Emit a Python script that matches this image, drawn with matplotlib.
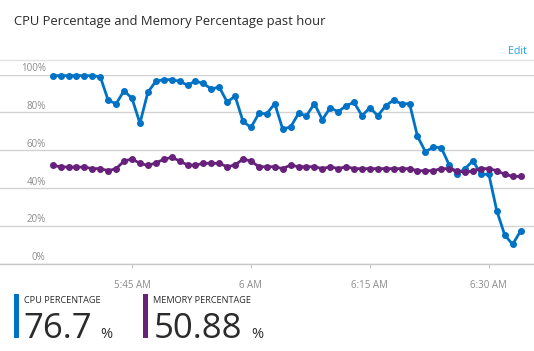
import matplotlib
matplotlib.use("Agg")
import matplotlib.pyplot as plt
import matplotlib.dates as mdates
import matplotlib.transforms as mtransforms
import pandas as pd

# ---------------- data ----------------
start_time = "2024-01-01 05:35"
n_points = 60
cpu_pct = [99.5, 99.5, 99.5, 99.5, 99.5, 99.5, 98.9, 86.4, 84.7, 91.5,
           87.5, 74.3, 90.7, 96.5, 97.4, 97.4, 96.5, 94.5, 96.6, 95.4,
           92.4, 93.5, 85.5, 88.7, 75.3, 72.1, 79.5, 79.4, 84.7, 71.3,
           72.3, 79.5, 78.3, 84.7, 76.2, 82.5, 80.4, 83.6, 85.4, 78.3,
           82.5, 78.3, 83.6, 86.6, 84.5, 84.7, 67.4, 59.3, 61.6, 61.4,
           52.2, 47.4, 50.3, 54.5, 47.3, 47.3, 28.0, 15.2, 10.2, 17.3]
mem_pct = [52.0, 51.3, 51.1, 51.1, 51.1, 50.3, 50.3, 49.2, 50.3, 54.3,
           55.4, 53.1, 52.0, 53.3, 55.2, 56.3, 54.4, 52.2, 52.2, 53.1,
           53.1, 53.1, 51.3, 52.2, 55.4, 54.3, 51.3, 51.3, 51.3, 50.3,
           52.2, 51.3, 51.3, 51.3, 50.3, 51.3, 50.3, 51.3, 50.3, 50.3,
           50.3, 50.3, 50.3, 50.3, 50.3, 50.3, 49.2, 49.2, 49.2, 50.3,
           50.3, 49.2, 48.3, 49.2, 50.3, 50.3, 49.2, 47.3, 46.2, 46.2]
y_ticks = [0, 20, 40, 60, 80, 100]
y_tick_labels = ["0%", "20%", "40%", "60%", "80%", "100%"]
x_tick_times = ["2024-01-01 05:45", "2024-01-01 06:00", "2024-01-01 06:15", "2024-01-01 06:30"]
x_tick_labels = ["5:45 AM", "6 AM", "6:15 AM", "6:30 AM"]
title = "CPU Percentage and Memory Percentage past hour"
cpu_label, cpu_value = "CPU PERCENTAGE", "76.7"
mem_label, mem_value = "MEMORY PERCENTAGE", "50.88"

# ---------------- style ----------------
W, H = 534, 351
DPI = 100
FONT = ["Open Sans", "DejaVu Sans"]
plt.rcParams["font.family"] = FONT
BLUE = "#0072c6"
PURPLE = "#68217a"
GRID = "#d2d2d2"
TICK_TXT = "#8c8c8c"
DARK = "#2b2b2b"

times = pd.date_range(start_time, periods=n_points, freq="min")
xt = [mdates.date2num(pd.Timestamp(t)) for t in x_tick_times]
xnum = mdates.date2num(times)


def fx(px):
    return px / W


def fy(py):
    return 1 - py / H


fig = plt.figure(figsize=(W / DPI, H / DPI), dpi=DPI)
fig.patch.set_facecolor("white")

# plot area: full width, 100% at y=74.7px, 0% at y=263.7px
ax = fig.add_axes([0, fy(263.7), 1, (263.7 - 74.7) / H])
ax.set_facecolor("none")
ax.plot(xnum, cpu_pct, color=BLUE, lw=2.0, marker="o", ms=4.0, clip_on=False, zorder=3)
ax.plot(xnum, mem_pct, color=PURPLE, lw=2.0, marker="o", ms=4.0, clip_on=False, zorder=3)

# x range: minute spacing ~7.93px, first point at 52.7px
step = xnum[1] - xnum[0]
ax.set_xlim(xnum[0] - 52.7 / 7.93 * step, xnum[0] + (534 - 52.7) / 7.93 * step)
ax.set_ylim(0, 100)

for s in ["top", "right", "left"]:
    ax.spines[s].set_visible(False)
ax.spines["bottom"].set_color("#c8c8c8")
ax.spines["bottom"].set_linewidth(1.0)

ax.set_yticks(y_ticks)
ax.set_yticklabels([])
ax.tick_params(axis="y", length=0)
ax.grid(axis="y", color=GRID, lw=1.0)
ax.set_axisbelow(True)

ax.set_xticks(xt)
ax.set_xticklabels(x_tick_labels)
ax.tick_params(axis="x", length=3, width=0.8, color="#c8c8c8", pad=9,
               labelsize=7, labelcolor=TICK_TXT)

# y labels sit just above their gridlines, right aligned
ytrans = ax.get_yaxis_transform() + mtransforms.ScaledTranslation(0, 3.5 / DPI, fig.dpi_scale_trans)
for v, lab in zip(y_ticks, y_tick_labels):
    ax.text(45.7 / W, v, lab, transform=ytrans, ha="right", va="baseline",
            fontsize=7, color=TICK_TXT)

# header
fig.text(fx(14), fy(25), title, fontsize=9.4, color=DARK, ha="left", va="baseline")
fig.text(fx(527), fy(54), "Edit", fontsize=7.6, color="#1ea5e8", ha="right", va="baseline")
fig.add_artist(plt.Line2D([0, 1], [fy(59.7), fy(59.7)], color="#e3e3e3", lw=1.0))

# summary tiles
fig.add_artist(plt.Rectangle((fx(14), fy(338)), fx(4.6), (338 - 294) / H, color=BLUE, lw=0))
fig.add_artist(plt.Rectangle((fx(143.3), fy(338)), fx(4.4), (338 - 294) / H, color=PURPLE, lw=0))

fig.text(fx(24), fy(303.3), cpu_label, fontsize=6.6, color=DARK, ha="left", va="baseline")
fig.text(fx(23.5), fy(337.5), cpu_value, fontsize=25, color=DARK, ha="left", va="baseline")
fig.text(fx(100), fy(337.5), "%", fontsize=10.5, color=DARK, ha="left", va="baseline")

fig.text(fx(153.3), fy(303.3), mem_label, fontsize=6.6, color=DARK, ha="left", va="baseline")
fig.text(fx(153.5), fy(337.5), mem_value, fontsize=25, color=DARK, ha="left", va="baseline")
fig.text(fx(251.7), fy(337.5), "%", fontsize=10.5, color=DARK, ha="left", va="baseline")

fig.savefig("out.png", dpi=DPI, facecolor="white")
